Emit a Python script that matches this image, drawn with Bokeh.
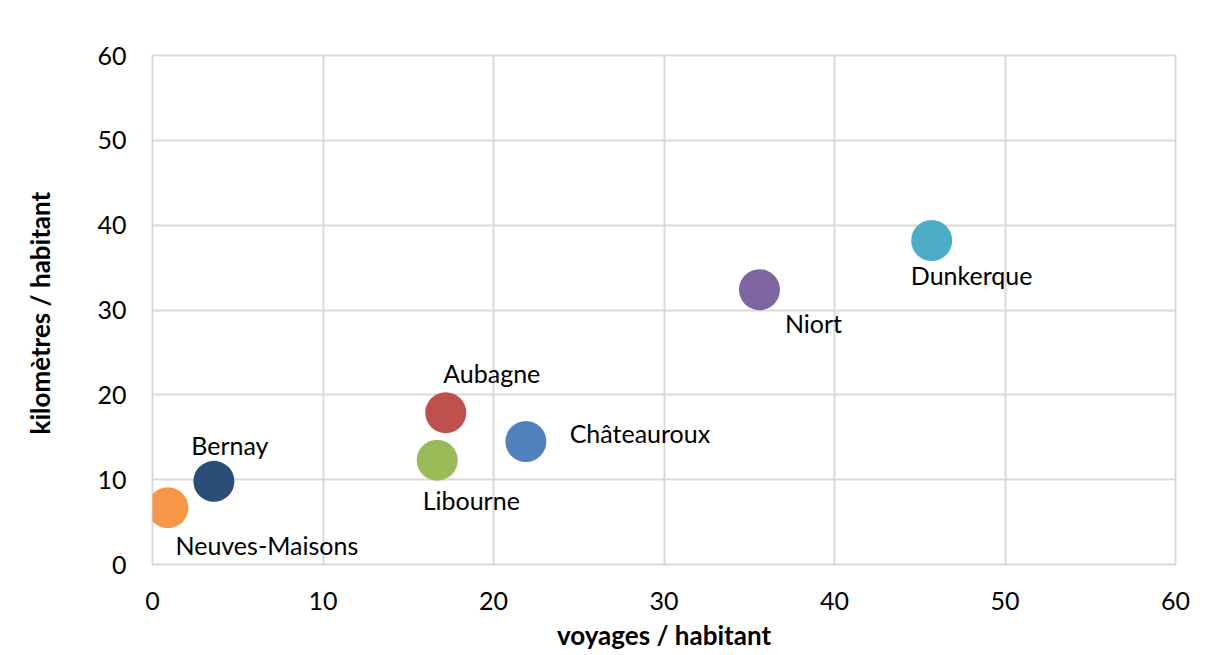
from bokeh.plotting import figure
from bokeh.models import ColumnDataSource, FixedTicker, Range1d, BoxAnnotation, Node
from bokeh.core.properties import value
from bokeh.embed import file_html
from bokeh.resources import INLINE

# ---- data ----
villes = ["Neuves-Maisons", "Bernay", "Libourne", "Aubagne", "Châteauroux", "Niort", "Dunkerque"]
voyages = [0.9, 3.6, 16.7, 17.2, 21.9, 35.6, 45.7]
kilometres = [6.7, 9.8, 12.3, 17.9, 14.5, 32.4, 38.2]
couleurs = ["#F79646", "#2C4D75", "#9BBB59", "#C0504D", "#4F81BD", "#8064A2", "#4BACC6"]
ticks = [0, 10, 20, 30, 40, 50, 60]

# label placement (screen px offsets, style only)
dx = [99, 16, 34, 46, 114, 54, 40]
dy = [37, -36, 40, -40, -8, 33, 35]

FONT = "Lato"

src = ColumnDataSource(dict(x=voyages, y=kilometres, name=villes, color=couleurs, dx=dx, dy=dy))

p = figure(width=1197, height=653, output_backend="svg", toolbar_location=None,
           x_range=Range1d(0, 60), y_range=Range1d(0, 60),
           min_border_left=152, min_border_right=22, min_border_top=55, min_border_bottom=89)

p.outline_line_color = "#d9d9d9"
p.outline_line_width = 2
for g in (p.xgrid, p.ygrid):
    g.grid_line_color = "#d9d9d9"
    g.grid_line_width = 2
p.xaxis.ticker = FixedTicker(ticks=ticks)
p.yaxis.ticker = FixedTicker(ticks=ticks)
p.xgrid.ticker = FixedTicker(ticks=ticks)
p.ygrid.ticker = FixedTicker(ticks=ticks)

for ax in (p.xaxis, p.yaxis):
    ax.axis_line_color = None
    ax.major_tick_line_color = None
    ax.minor_tick_line_color = None
    ax.major_label_text_font = FONT
    ax.major_label_text_font_size = "25px"
    ax.major_label_text_color = "#000000"
    ax.axis_label_text_font = FONT
    ax.axis_label_text_font_size = "26px"
    ax.axis_label_text_font_style = "bold"
    ax.axis_label_text_color = "#000000"

p.xaxis.axis_label = "voyages / habitant"
p.yaxis.axis_label = "kilomètres /  habitant"
p.xaxis.major_label_standoff = 21
p.yaxis.major_label_standoff = 20
p.xaxis.axis_label_standoff = 6
p.yaxis.axis_label_standoff = 38

# outer chart-area border (screen-anchored)
border = BoxAnnotation(left=Node(target="canvas", symbol="left", offset=7),
                       top=Node(target="canvas", symbol="top", offset=8),
                       right=Node(target="canvas", symbol="right", offset=40),
                       bottom=Node(target="canvas", symbol="bottom", offset=40),
                       fill_color=None, fill_alpha=0, line_color="#d9d9d9", line_width=2,
                       level="underlay", editable=False)
p.add_layout(border)

p.scatter("x", "y", source=src, size=41, fill_color="color", line_color=None)
p.text("x", "y", text="name", source=src, x_offset="dx", y_offset="dy",
       text_align="center", text_baseline="middle",
       text_font=value(FONT), text_font_size="25px", text_color="#000000")

open("out.html", "w").write(file_html(p, INLINE))
